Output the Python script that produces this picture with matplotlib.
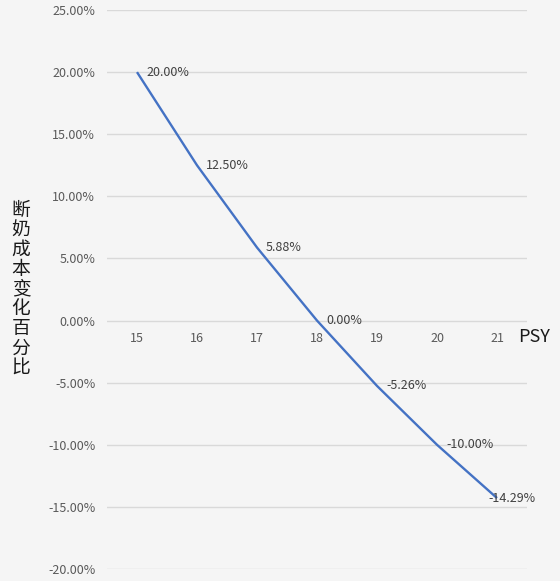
import matplotlib.pyplot as plt

plt.rcParams['font.family'] = ['Noto Sans CJK SC', 'DejaVu Sans']

# PSY values and the matching change in weaning cost (%)
psy = [15, 16, 17, 18, 19, 20, 21]
cost_change = [20.00, 12.50, 5.88, 0.00, -5.26, -10.00, -14.29]
y_ticks = [25, 20, 15, 10, 5, 0, -5, -10, -15, -20]

bg = '#f5f5f5'
fig = plt.figure(figsize=(5.6, 5.81), dpi=100, facecolor=bg)
ax = fig.add_axes([107 / 560, 1 - 569 / 581, 420 / 560, 559 / 581], facecolor=bg)

ax.plot(psy, cost_change, color='#4472c4', lw=1.7, solid_capstyle='butt', zorder=3)

ax.set_xlim(14.5, 21.5)
ax.set_ylim(-20, 25)
ax.set_yticks(y_ticks)
ax.set_yticklabels([f'{v:.2f}%' for v in y_ticks])
ax.set_xticks(psy)
ax.set_xticklabels([str(p) for p in psy])

# gridlines only, no frame
ax.yaxis.grid(True, color='#d9d9d9', lw=1)
ax.set_axisbelow(True)
for s in ax.spines.values():
    s.set_visible(False)
ax.spines['bottom'].set_position(('data', 0))
ax.tick_params(axis='both', length=0, labelsize=9, labelcolor='#595959')
ax.tick_params(axis='y', pad=8.5)
ax.tick_params(axis='x', pad=8)

# data labels
for i, (x, y) in enumerate(zip(psy, cost_change)):
    dx = -6 if i == len(psy) - 1 else 6.5
    ax.annotate(f'{y:.2f}%', (x, y), xytext=(dx, 0), textcoords='offset points',
                ha='left', va='center', fontsize=9, color='#404040', zorder=4)

ax.annotate('PSY', (21.35, 0), xytext=(0, -11.5), textcoords='offset points',
            ha='left', va='center', fontsize=13, color='#1a1a1a')

fig.text(21 / 560, 1 - 289 / 581, '\n'.join('断奶成本变化百分比'), ha='center', va='center',
         fontsize=13.5, color='#1a1a1a', linespacing=0.92)

fig.savefig('out.png', dpi=100, facecolor=bg)
